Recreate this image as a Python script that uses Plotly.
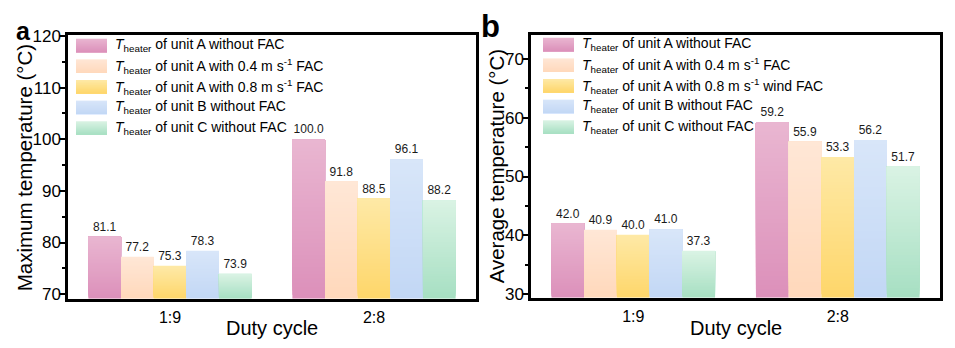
import plotly.graph_objects as go

# ---- data -------------------------------------------------------------
duty_cycles = ["1:9", "2:8"]

legend_a = [
    "<i>T</i><sub>heater</sub> of unit A without FAC",
    "<i>T</i><sub>heater</sub> of unit A with 0.4 m s<sup>-1</sup> FAC",
    "<i>T</i><sub>heater</sub> of unit A with 0.8 m s<sup>-1</sup> FAC",
    "<i>T</i><sub>heater</sub> of unit B without FAC",
    "<i>T</i><sub>heater</sub> of unit C without FAC",
]
legend_b = [
    "<i>T</i><sub>heater</sub> of unit A without FAC",
    "<i>T</i><sub>heater</sub> of unit A with 0.4 m s<sup>-1</sup> FAC",
    "<i>T</i><sub>heater</sub> of unit A with 0.8 m s<sup>-1</sup> wind FAC",
    "<i>T</i><sub>heater</sub> of unit B without FAC",
    "<i>T</i><sub>heater</sub> of unit C without FAC",
]

# maximum temperature (°C) per series, for duty cycles 1:9 and 2:8
max_unit_a = [81.1, 100.0]
max_unit_a_04 = [77.2, 91.8]
max_unit_a_08 = [75.3, 88.5]
max_unit_b = [78.3, 96.1]
max_unit_c = [73.9, 88.2]

# average temperature (°C) per series
avg_unit_a = [42.0, 59.2]
avg_unit_a_04 = [40.9, 55.9]
avg_unit_a_08 = [40.0, 53.3]
avg_unit_b = [41.0, 56.2]
avg_unit_c = [37.3, 51.7]

y_ticks_a = [70, 80, 90, 100, 110, 120]
y_ticks_b = [30, 40, 50, 60, 70]

# ---- styling ----------------------------------------------------------
FONT = "Liberation Sans, Arial, sans-serif"
W, H = 955, 348

# (top colour, bottom colour) of each series' vertical gradient
gradients = [
    ("#e9b6d1", "#dc90ba"),
    ("#ffe7d6", "#ffd8bb"),
    ("#fee9a6", "#fed66a"),
    ("#d8e6f9", "#c2d7f5"),
    ("#daf3e4", "#a6dfc2"),
]
N_SLICES = 40


def hex_rgb(h):
    h = h.lstrip("#")
    return tuple(int(h[i:i + 2], 16) for i in (0, 2, 4))


def mix(top, bottom, t):
    """t=0 -> bottom colour, t=1 -> top colour."""
    a, b = hex_rgb(top), hex_rgb(bottom)
    c = [round(b[i] + (a[i] - b[i]) * t) for i in range(3)]
    return f"rgb({c[0]},{c[1]},{c[2]})"


def fx(p):
    return p / W


def fy(p):
    return 1 - p / H


panels = [
    dict(xa="x", ya="y", box=(68, 476, 28, 303), yrange=[69.1, 120.2],
         ticks=y_ticks_a, series=[max_unit_a, max_unit_a_04, max_unit_a_08, max_unit_b, max_unit_c],
         names=legend_a, ytitle="Maximum temperature (°C)", ytitle_size=20.5, ytitle_xy=(24, 167),
         tag="a", tag_xy=(23, 24), tag_size=25, leg=(76, 32)),
    dict(xa="x2", ya="y2", box=(531, 940, 28, 302), yrange=[29.35, 74.1],
         ticks=y_ticks_b, series=[avg_unit_a, avg_unit_a_04, avg_unit_a_08, avg_unit_b, avg_unit_c],
         names=legend_b, ytitle="Average temperature (°C)", ytitle_size=20.5, ytitle_xy=(496, 165),
         tag="b", tag_xy=(490, 19), tag_size=31, leg=(543, 31)),
]

fig = go.Figure()
shapes, annotations = [], []

for p in panels:
    lo = p["yrange"][0]
    for j, vals in enumerate(p["series"]):
        top, bottom = gradients[j]
        # each bar is painted as overlapping layers, each running from a
        # rising base up to the value, which gives a seamless vertical gradient
        for k in range(N_SLICES):
            last = k == N_SLICES - 1
            bases = [lo + k * (v - lo) / N_SLICES for v in vals]
            fig.add_trace(go.Bar(
                x=duty_cycles,
                y=[v - b for v, b in zip(vals, bases)],
                base=bases,
                offsetgroup=str(j),
                marker=dict(color=mix(top, bottom, (k + 0.5) / N_SLICES), line=dict(width=0)),
                text=[f"{v:.1f}" for v in vals] if last else None,
                textposition="outside" if last else None,
                textfont=dict(size=12, color="#1a1a1a", family=FONT),
                constraintext="none",
                cliponaxis=False,
                showlegend=False,
                hoverinfo="skip",
                xaxis=p["xa"], yaxis=p["ya"],
            ))

    # legend: gradient swatches + labels
    lx, ly = p["leg"]
    pitch, sw_w, sw_h, n_sw = 21.5, 31, 14, 14
    for j, name in enumerate(p["names"]):
        top, bottom = gradients[j]
        y_top = ly + j * pitch
        for s in range(n_sw):
            t = 1 - (s + 0.5) / n_sw
            shapes.append(dict(
                type="rect", xref="paper", yref="paper",
                x0=fx(lx), x1=fx(lx + sw_w),
                y0=fy(y_top + s * sw_h / n_sw), y1=fy(y_top + sw_h),
                fillcolor=mix(top, bottom, t), line=dict(width=0), layer="above",
            ))
        annotations.append(dict(
            text=name, x=fx(lx + sw_w + 6), y=fy(y_top + sw_h / 2),
            xref="paper", yref="paper", xanchor="left", yanchor="middle",
            showarrow=False, font=dict(size=14, color="black", family=FONT),
        ))

    x0, x1, y0, y1 = p["box"]
    # axis titles
    annotations.append(dict(
        text=p["ytitle"], textangle=-90, x=fx(p["ytitle_xy"][0]), y=fy(p["ytitle_xy"][1]),
        xref="paper", yref="paper", xanchor="center", yanchor="middle",
        showarrow=False, font=dict(size=p["ytitle_size"], color="black", family=FONT),
    ))
    annotations.append(dict(
        text="Duty cycle", x=fx((x0 + x1) / 2), y=fy(333),
        xref="paper", yref="paper", xanchor="center", yanchor="middle",
        showarrow=False, font=dict(size=20, color="black", family=FONT),
    ))
    # panel letter
    annotations.append(dict(
        text=f"<b>{p['tag']}</b>", x=fx(p["tag_xy"][0]), y=fy(p["tag_xy"][1]),
        xref="paper", yref="paper", xanchor="center", yanchor="middle",
        showarrow=False, font=dict(size=p["tag_size"], color="black", family=FONT),
    ))

axis_common = dict(showline=True, linecolor="black", linewidth=2.5, mirror=True,
                   showgrid=False, zeroline=False)

layout_axes = {}
for i, p in enumerate(panels):
    suffix = "" if i == 0 else str(i + 1)
    x0, x1, y0, y1 = p["box"]
    layout_axes["xaxis" + suffix] = dict(
        axis_common, domain=[fx(x0), fx(x1)], type="category", range=[-0.5, 1.5],
        ticks="", ticklabelstandoff=2, anchor="y" + suffix,
        tickfont=dict(size=16, color="black", family=FONT),
    )
    layout_axes["yaxis" + suffix] = dict(
        axis_common, domain=[fy(y1), fy(y0)], range=p["yrange"],
        tickvals=p["ticks"], ticks="outside", ticklen=5, tickwidth=1.5, tickcolor="black",
        ticklabelstandoff=-4,
        tickfont=dict(size=17, color="black", family=FONT),
        minor=dict(dtick=5, ticks="outside", ticklen=3, tickwidth=1.5, tickcolor="black",
                   showgrid=False),
        anchor="x" + suffix,
    )

fig.update_layout(
    width=W, height=H,
    margin=dict(l=0, r=0, t=0, b=0),
    paper_bgcolor="white", plot_bgcolor="white",
    barmode="group", bargap=0.2, bargroupgap=0,
    font=dict(family=FONT, color="black"),
    showlegend=False,
    shapes=shapes, annotations=annotations,
    **layout_axes,
)

fig.write_html("out.html")
